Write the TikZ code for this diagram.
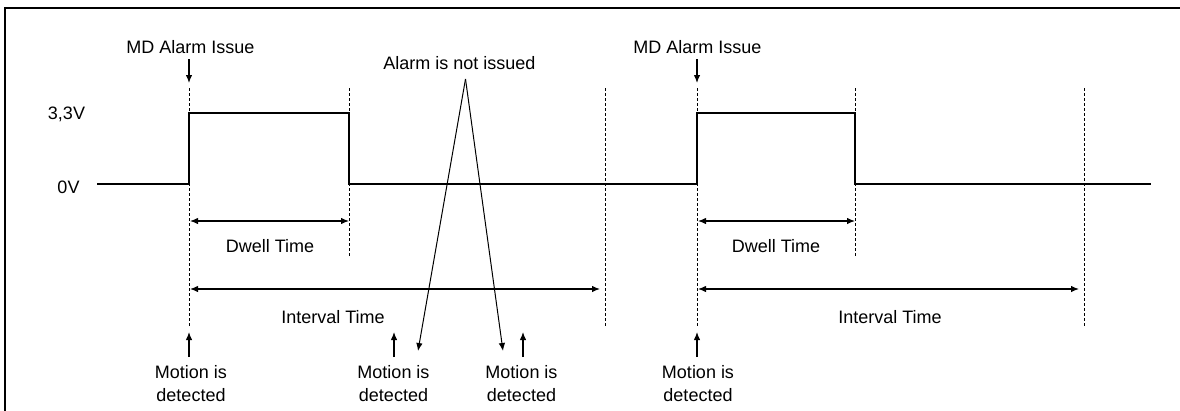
\documentclass[tikz,border=0pt]{standalone}
\usepackage{fontspec}
\setmainfont{Liberation Sans}
\usetikzlibrary{arrows.meta}
\tikzset{
  lbl/.style={inner sep=0pt, anchor=base, font=\fontsize{18}{23}\selectfont},
  sig/.style={line width=2.3pt, line join=miter},
  guide/.style={line width=1pt, dash pattern=on 3pt off 2pt},
  arr/.style={line width=1.2pt, -{Latex[length=8pt,width=6.5pt]}},
  darr/.style={line width=1.2pt, {Latex[length=8pt,width=6.5pt]}-{Latex[length=8pt,width=6.5pt]}},
  frame/.style={line width=1.4pt}
}
\begin{document}
\begin{tikzpicture}[x=1pt,y=-1pt]
\useasboundingbox (0,0) rectangle (1180,410);
% frame
\draw[frame] (5,412) -- (5,8) -- (1182,8);

% signal
\draw[sig] (97,184) -- (189,184) -- (189,113) -- (349,113) -- (349,184)
  -- (697,184) -- (697,113) -- (855,113) -- (855,184) -- (1151,184);

% guides
\coordinate (g1t) at (189,88);  \coordinate (g1b) at (189,327);
\coordinate (g2t) at (349,88);  \coordinate (g2b) at (349,256);
\coordinate (g3t) at (605,88);  \coordinate (g3b) at (605,327);
\coordinate (g4t) at (697,88);  \coordinate (g4b) at (697,327);
\coordinate (g5t) at (855,88);  \coordinate (g5b) at (855,256);
\coordinate (g6t) at (1084,88); \coordinate (g6b) at (1084,327);
\foreach \g in {1,...,6} \draw[guide] (g\g t) -- (g\g b);

% level labels
\node[lbl] (v33) at (66.5,119) {3,3V};
\node[lbl] (v0) at (68.5,193) {0V};

% MD alarm issue
\node[lbl] (md1) at (190.5,53) {MD Alarm Issue};
\node[lbl] (md2) at (697.5,53) {MD Alarm Issue};
\coordinate (md1s) at (189,59); \coordinate (md1e) at (189,83);
\coordinate (md2s) at (697,59); \coordinate (md2e) at (697,83);
\draw[arr] (md1s) -- (md1e);
\draw[arr] (md2s) -- (md2e);

% dwell / interval
\coordinate (d1a) at (190,221); \coordinate (d1b) at (349,221);
\coordinate (i1a) at (190,289); \coordinate (i1b) at (600,289);
\coordinate (d2a) at (698,221); \coordinate (d2b) at (855,221);
\coordinate (i2a) at (698,289); \coordinate (i2b) at (1079,289);
\draw[darr] (d1a) -- (d1b);
\draw[darr] (i1a) -- (i1b);
\draw[darr] (d2a) -- (d2b);
\draw[darr] (i2a) -- (i2b);
\node[lbl] (dw1) at (270,252) {Dwell Time};
\node[lbl] (dw2) at (776,252) {Dwell Time};
\node[lbl] (iv1) at (333,323) {Interval Time};
\node[lbl] (iv2) at (890,323) {Interval Time};

% alarm not issued
\node[lbl] (ani) at (459.5,69) {Alarm is not issued};
\coordinate (apex) at (465.5,79);
\coordinate (anl) at (418,351);
\coordinate (anr) at (503,351);
\draw[arr, line width=1pt] (apex) -- (anl);
\draw[arr, line width=1pt] (apex) -- (anr);

% motion detected
\node[lbl, align=center] (m1) at (191,401) {Motion is\\detected};
\node[lbl, align=center] (m2) at (393.5,401) {Motion is\\detected};
\node[lbl, align=center] (m3) at (521.5,401) {Motion is\\detected};
\node[lbl, align=center] (m4) at (698,401) {Motion is\\detected};
\coordinate (m1s) at (189,357); \coordinate (m1e) at (189,332);
\coordinate (m2s) at (394,357); \coordinate (m2e) at (394,332);
\coordinate (m3s) at (523,357); \coordinate (m3e) at (523,332);
\coordinate (m4s) at (697,357); \coordinate (m4e) at (697,332);
\draw[arr] (m1s) -- (m1e);
\draw[arr] (m2s) -- (m2e);
\draw[arr] (m3s) -- (m3e);
\draw[arr] (m4s) -- (m4e);
\end{tikzpicture}
\end{document}
